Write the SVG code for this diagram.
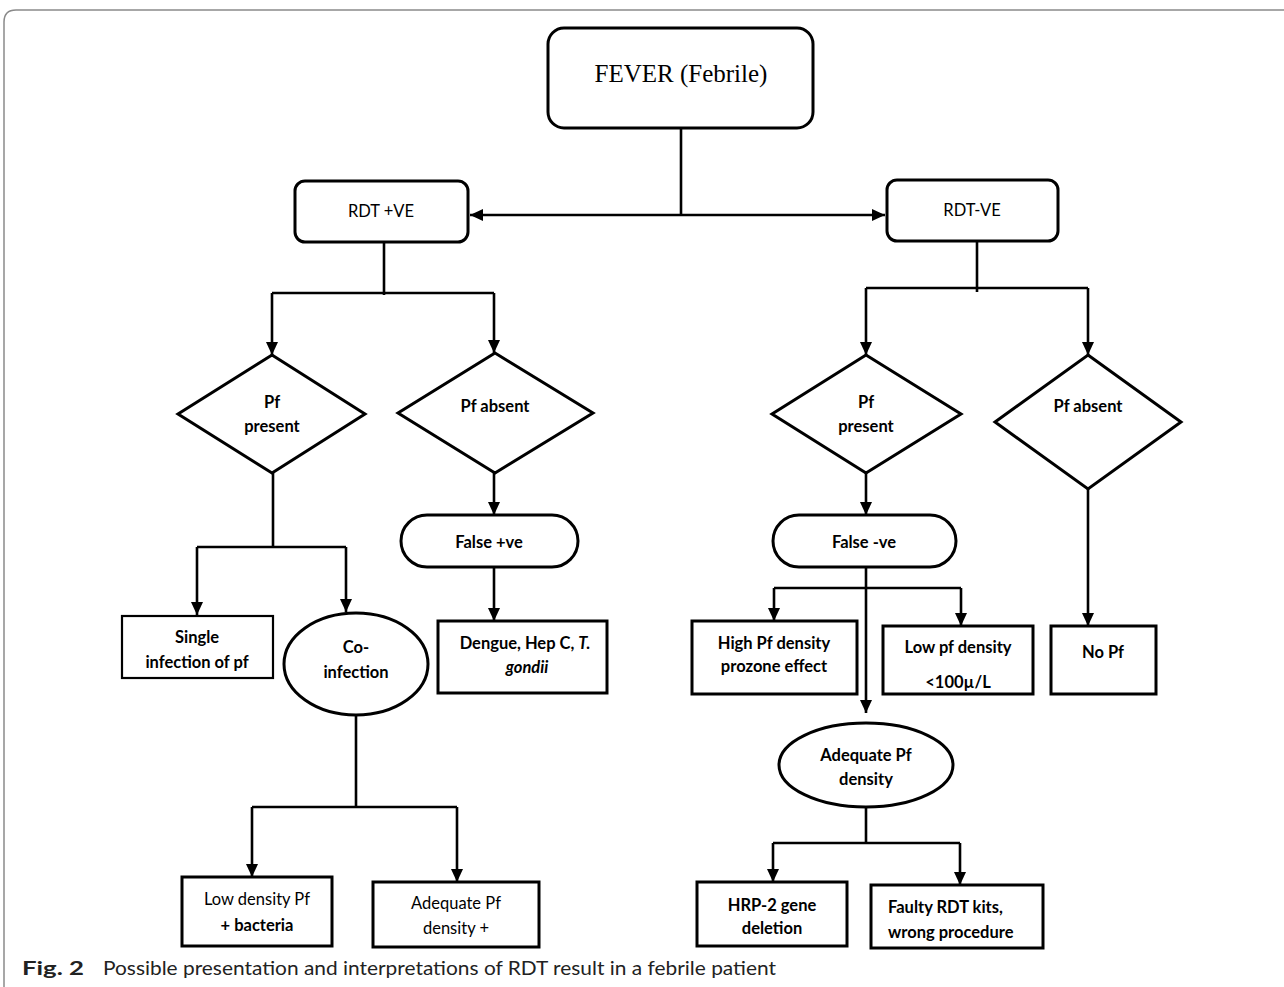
<svg xmlns="http://www.w3.org/2000/svg" width="1284" height="987" viewBox="0 0 1284 987">
<style>
.bx{fill:#fff;stroke:#000;stroke-width:3}
.bx2{fill:#fff;stroke:#000;stroke-width:2.2}
.ln{fill:none;stroke:#000;stroke-width:2.6}
.ar{fill:none;stroke:#000;stroke-width:2.6;marker-end:url(#ah)}
.t{font-family:Lato,"Open Sans","Liberation Sans",sans-serif;font-size:16.5px;fill:#000;text-anchor:middle}
.ts{font-family:Lato,"Open Sans","Liberation Sans",sans-serif;font-size:16.5px;fill:#000;text-anchor:start}
.b{font-weight:bold}
.cap{font-family:Lato,"Open Sans","Liberation Sans",sans-serif;font-size:19px;fill:#222}
</style>
<defs>
<marker id="ah" markerUnits="userSpaceOnUse" markerWidth="13" markerHeight="13" refX="13" refY="6.5" orient="auto">
<path d="M0,0.5 L13,6.5 L0,12.5 z" fill="#000"/>
</marker>
<marker id="ahs" markerUnits="userSpaceOnUse" markerWidth="13" markerHeight="13" refX="0" refY="6.5" orient="auto">
<path d="M13,0.5 L0,6.5 L13,12.5 z" fill="#000"/>
</marker>
</defs>
<rect width="1284" height="987" fill="#fff"/>
<path d="M4,987 V22 Q4,10 16,10 H1284" fill="none" stroke="#8a8a8a" stroke-width="1.5"/>

<g id="connectors">
<path class="ln" d="M681,128 V215"/>
<path class="ln" d="M470,215 H885" marker-start="url(#ahs)" marker-end="url(#ah)"/>
<path class="ln" d="M384,242 V295"/>
<path class="ln" d="M272,293 H494"/>
<path class="ar" d="M272,293 V355"/>
<path class="ar" d="M494,293 V353"/>
<path class="ln" d="M273,473 V547"/>
<path class="ln" d="M197,547 H346"/>
<path class="ar" d="M197,547 V615"/>
<path class="ar" d="M346,547 V612"/>
<path class="ar" d="M494,473 V515"/>
<path class="ar" d="M494,567 V621"/>
<path class="ln" d="M356,715 V807"/>
<path class="ln" d="M252,807 H457"/>
<path class="ar" d="M252,807 V877"/>
<path class="ar" d="M457,807 V882"/>
<path class="ln" d="M977,241 V292"/>
<path class="ln" d="M866,288 H1088"/>
<path class="ar" d="M866,288 V355"/>
<path class="ar" d="M1088,288 V355"/>
<path class="ar" d="M866,473 V515"/>
<path class="ar" d="M866,567 V713"/>
<path class="ln" d="M774,588 H961"/>
<path class="ar" d="M774,588 V621"/>
<path class="ar" d="M961,588 V626"/>
<path class="ar" d="M1088,489 V626"/>
<path class="ln" d="M866,808 V843"/>
<path class="ln" d="M773,843 H960"/>
<path class="ar" d="M773,843 V882"/>
<path class="ar" d="M960,843 V885"/>
</g>

<g id="fever">
<rect class="bx" x="548" y="28" width="265" height="100" rx="16"/>
<text x="681" y="82" font-family="'Liberation Serif',serif" font-size="25" text-anchor="middle">FEVER (Febrile)</text>
</g>
<g id="rdt_pos">
<rect class="bx" x="295" y="181" width="173" height="61" rx="10"/>
<text class="t" x="381" y="217" font-size="20">RDT +VE</text>
</g>
<g id="rdt_neg">
<rect class="bx" x="887" y="180" width="171" height="61" rx="10"/>
<text class="t" x="972" y="216" font-size="20">RDT-VE</text>
</g>
<g id="pf_present_l">
<polygon class="bx" points="272,355 365,414 272,473 178,414"/>
<text class="t b" x="272" y="408">Pf</text>
<text class="t b" x="272" y="432">present</text>
</g>
<g id="pf_absent_l">
<polygon class="bx" points="495,353 593,413 495,473 398,413"/>
<text class="t b" x="495" y="412">Pf absent</text>
</g>
<g id="single">
<rect class="bx2" x="122" y="616" width="151" height="62"/>
<text class="t b" x="197" y="643">Single</text>
<text class="t b" x="197" y="668">infection of pf</text>
</g>
<g id="coinfection">
<ellipse class="bx" cx="356" cy="664" rx="72" ry="51"/>
<text class="t b" x="356" y="653">Co-</text>
<text class="t b" x="356" y="678">infection</text>
</g>
<g id="false_pos">
<rect class="bx" x="401" y="515" width="177" height="52" rx="26"/>
<text class="t b" x="489" y="548">False +ve</text>
</g>
<g id="dengue">
<rect class="bx" x="438" y="621" width="169" height="72"/>
<text class="t b" x="525" y="649">Dengue, Hep C, <tspan font-style="italic">T.</tspan></text>
<text class="t b" x="527" y="673" font-style="italic">gondii</text>
</g>
<g id="low_density_bact">
<rect class="bx" x="182" y="877" width="150" height="69"/>
<text class="t" x="257" y="905">Low density Pf</text>
<text class="t b" x="257" y="931">+ bacteria</text>
</g>
<g id="adequate_plus">
<rect class="bx" x="373" y="882" width="166" height="65"/>
<text class="t" x="456" y="909">Adequate Pf</text>
<text class="t" x="456" y="934">density +</text>
</g>
<g id="pf_present_r">
<polygon class="bx" points="866,355 961,414 866,473 772,414"/>
<text class="t b" x="866" y="408">Pf</text>
<text class="t b" x="866" y="432">present</text>
</g>
<g id="pf_absent_r">
<polygon class="bx" points="1088,355 1181,422 1088,489 995,422"/>
<text class="t b" x="1088" y="412">Pf absent</text>
</g>
<g id="false_neg">
<rect class="bx" x="773" y="515" width="183" height="52" rx="26"/>
<text class="t b" x="864" y="548">False -ve</text>
</g>
<g id="high_pf">
<rect class="bx" x="692" y="621" width="165" height="73"/>
<text class="t b" x="774" y="649">High Pf density</text>
<text class="t b" x="774" y="672">prozone effect</text>
</g>
<g id="low_pf">
<rect class="bx" x="883" y="626" width="150" height="68"/>
<text class="t b" x="958" y="653">Low pf density</text>
<text class="t b" x="958" y="688">&lt;100µ/L</text>
</g>
<g id="no_pf">
<rect class="bx" x="1051" y="626" width="105" height="68"/>
<text class="t b" x="1103" y="658">No Pf</text>
</g>
<g id="adequate_density">
<ellipse class="bx" cx="866" cy="765" rx="87" ry="42"/>
<text class="t b" x="866" y="761">Adequate Pf</text>
<text class="t b" x="866" y="785">density</text>
</g>
<g id="hrp2">
<rect class="bx" x="697" y="882" width="150" height="64"/>
<text class="t b" x="772" y="911">HRP-2 gene</text>
<text class="t b" x="772" y="934">deletion</text>
</g>
<g id="faulty">
<rect class="bx" x="871" y="885" width="172" height="63"/>
<text class="ts b" x="888" y="913">Faulty RDT kits,</text>
<text class="ts b" x="888" y="938">wrong procedure</text>
</g>
<g id="caption">
<text class="cap" x="22" y="975" font-weight="bold" font-size="21" textLength="62" lengthAdjust="spacingAndGlyphs">Fig. 2</text>
<text class="cap" x="103" y="975" textLength="673" lengthAdjust="spacingAndGlyphs">Possible presentation and interpretations of RDT result in a febrile patient</text>
</g>
</svg>
